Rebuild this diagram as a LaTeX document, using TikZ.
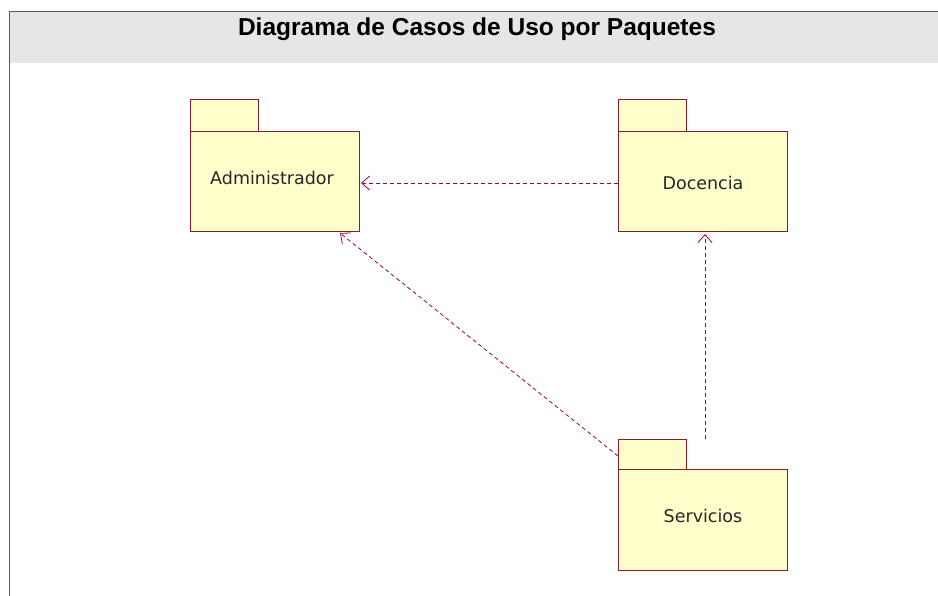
\documentclass[tikz,border=0pt]{standalone}
\usepackage{fontspec}
\setmainfont{Liberation Sans}
\newfontfamily\pkgfont{DejaVu Sans}
\usetikzlibrary{arrows.meta}
\definecolor{pkgfill}{HTML}{FFFFCC}
\definecolor{pkgline}{HTML}{8B1A2B}
\definecolor{depline}{HTML}{99004D}
\definecolor{hdrgray}{HTML}{E6E6E6}
\tikzset{
  pkgbody/.style={draw=pkgline, fill=pkgfill, line width=1pt, minimum width=169pt, minimum height=100pt, inner sep=0pt},
  pkgtab/.style={draw=pkgline, fill=pkgfill, line width=1pt, minimum width=68pt, minimum height=32pt, inner sep=0pt},
  pkglabel/.style={font=\pkgfont\fontsize{17.5}{20}\selectfont, text=black!85},
  dep/.style={draw=depline, dashed, dash pattern=on 4pt off 3pt, line width=0.8pt, -{Straight Barb[length=8pt, width=14pt, line width=0.8pt]}}
}
\begin{document}
\begin{tikzpicture}[x=1pt, y=-1pt]
\useasboundingbox (0,0) rectangle (938,596);
\fill[white] (0,0) rectangle (938,596);
\fill[hdrgray] (9,12) rectangle (938,63);
\draw[gray!70!black, line width=1pt] (9,596) -- (9,12) -- (938,12);
\node[font=\bfseries\fontsize{24.5}{28}\selectfont] (title) at (477,29) {Diagrama de Casos de Uso por Paquetes};
% Administrador
\node[pkgtab, anchor=north west] (admtab) at (190,99) {};
\node[pkgbody, anchor=north west] (adm) at (190,131) {};
\node[pkglabel] (admtxt) at (272,178) {Administrador};
% Docencia
\node[pkgtab, anchor=north west] (doctab) at (618,99) {};
\node[pkgbody, anchor=north west] (doc) at (618,131) {};
\node[pkglabel] (doctxt) at (703,183) {Docencia};
% Servicios
\node[pkgtab, anchor=north west] (sertab) at (618,439) {};
\node[pkgbody, anchor=north west, minimum height=101pt] (ser) at (618,469) {};
\node[pkglabel] (sertxt) at (703,516) {Servicios};
% dependencies
\coordinate (a1) at (618,183);
\coordinate (a2) at (361,183);
\draw[dep] (a1) -- (a2);
\coordinate (b1) at (705,439);
\coordinate (b2) at (705,234);
\draw[dep] (b1) -- (b2);
\coordinate (c1) at (618,456);
\coordinate (c2) at (340,233);
\draw[dep] (c1) -- (c2);
\end{tikzpicture}
\end{document}
